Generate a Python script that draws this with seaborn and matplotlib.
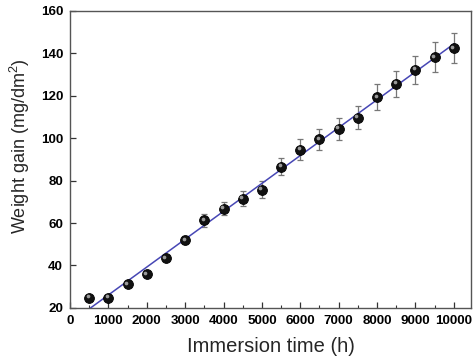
import numpy as np
import pandas as pd
import matplotlib
matplotlib.use("Agg")
import matplotlib.pyplot as plt
import matplotlib.transforms as mtransforms
from matplotlib.ticker import MultipleLocator
import seaborn as sns

time_h = [500, 1000, 1500, 2000, 2500, 3000, 3500, 4000, 4500, 5000,
          5500, 6000, 6500, 7000, 7500, 8000, 8500, 9000, 9500, 10000]
weight_gain = [24.9, 24.9, 31.2, 35.9, 43.4, 51.9, 61.2, 66.7, 71.4, 75.6,
               86.6, 94.5, 99.4, 104.4, 109.7, 119.3, 125.6, 132.2, 138.2, 142.4]
error = [0.8, 0.8, 1.0, 1.0, 1.2, 2.0, 3.0, 3.0, 3.5, 4.0,
         4.0, 5.0, 5.0, 5.2, 5.6, 6.0, 6.2, 6.7, 7.0, 7.0]
x_ticks = [0, 1000, 2000, 3000, 4000, 5000, 6000, 7000, 8000, 9000, 10000]
y_ticks = [20, 40, 60, 80, 100, 120, 140, 160]

df = pd.DataFrame({"t": time_h, "w": weight_gain, "e": error})

sns.set_style("white")
plt.rcParams['font.family'] = ['Liberation Sans', 'DejaVu Sans']
plt.rcParams['mathtext.fontset'] = 'custom'
plt.rcParams['mathtext.rm'] = 'Liberation Sans'

fig = plt.figure(figsize=(4.73, 3.61), dpi=100)
ax = fig.add_axes([0.148, 0.147, 0.848, 0.823])

ax.errorbar(df["t"], df["w"], yerr=df["e"], fmt="none", ecolor="#777777",
            elinewidth=0.9, capsize=2.5, capthick=0.9, zorder=2)

sns.regplot(data=df, x="t", y="w", ax=ax, ci=None, scatter=False,
            line_kws=dict(color="#4747b5", lw=1.1, zorder=3))

sns.scatterplot(data=df, x="t", y="w", ax=ax, s=50, color="#111111",
                edgecolor="black", linewidth=0.6, zorder=4, legend=False)
hl = mtransforms.offset_copy(ax.transData, fig=fig, x=-1.1, y=1.1, units="points")
ax.scatter(df["t"], df["w"], s=7, color="#9a9a9a", transform=hl, zorder=5, linewidths=0)

ax.set_xlim(0, 10450)
ax.set_ylim(20, 160)
ax.set_xticks(x_ticks)
ax.set_yticks(y_ticks)
ax.xaxis.set_minor_locator(MultipleLocator(500))
ax.tick_params(axis="both", which="major", direction="in", length=4, width=0.9,
               bottom=True, left=True, top=False, right=False, colors="#333333",
               labelcolor="black", labelsize=9.6, pad=5)
ax.tick_params(axis="x", which="minor", direction="in", length=2.5, width=0.8,
               bottom=True, top=False, colors="#333333")
for lab in ax.get_xticklabels() + ax.get_yticklabels():
    lab.set_fontweight("bold")
for sp in ax.spines.values():
    sp.set_color("#555555")
    sp.set_linewidth(1.0)

ax.set_xlabel("Immersion time (h)", fontsize=14.5, labelpad=7)
ax.set_ylabel("Weight gain (mg/dm$\\mathregular{^2}$)", fontsize=13)
ax.yaxis.set_label_coords(-0.095, 0.545)

fig.savefig("out.png", dpi=100)
